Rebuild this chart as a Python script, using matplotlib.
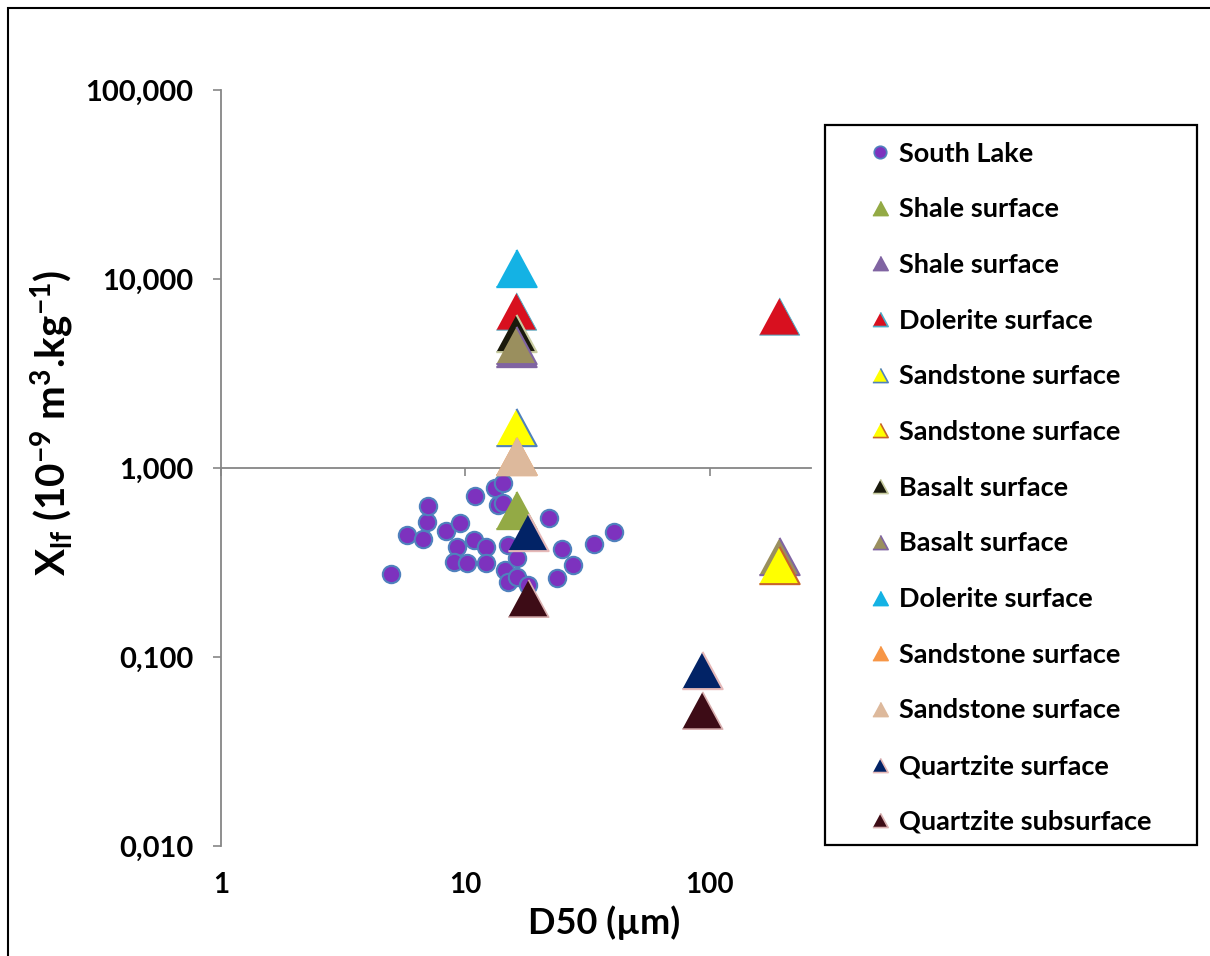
import matplotlib
matplotlib.use("Agg")
import matplotlib.pyplot as plt
from matplotlib.lines import Line2D
from matplotlib.patches import Rectangle
from matplotlib.ticker import FixedLocator, FixedFormatter, NullLocator

plt.rcParams['font.family'] = ['Lato', 'DejaVu Sans']
plt.rcParams['font.weight'] = 'bold'
plt.rcParams['mathtext.fontset'] = 'custom'
plt.rcParams['mathtext.rm'] = 'Lato:bold'
plt.rcParams['mathtext.bf'] = 'Lato:bold'
plt.rcParams['mathtext.default'] = 'bf'

# South Lake sediment samples: D50 (um) vs low-frequency susceptibility
lake_d50 = [4.96, 5.77, 6.70, 6.96, 7.02, 8.32, 9.49, 9.23, 8.97, 10.14,
            10.94, 10.83, 12.13, 12.13, 13.20, 13.58, 14.23, 14.23, 14.51, 14.92,
            16.24, 14.92, 16.24, 18.02, 21.95, 24.81, 27.52, 23.67, 33.54, 40.50]
lake_chi = [0.275, 0.442, 0.421, 0.518, 0.630, 0.464, 0.512, 0.382, 0.318, 0.314,
            0.711, 0.416, 0.382, 0.314, 0.784, 0.637, 0.833, 0.653, 0.289, 0.391,
            0.334, 0.249, 0.265, 0.240, 0.544, 0.373, 0.307, 0.262, 0.396, 0.459]

# catchment rock samples, one list per legend entry
rock_labels = ['Shale surface', 'Shale surface', 'Dolerite surface',
               'Sandstone surface', 'Sandstone surface', 'Basalt surface',
               'Basalt surface', 'Dolerite surface', 'Sandstone surface',
               'Sandstone surface', 'Quartzite surface', 'Quartzite subsurface']
rock_d50 = [[16.2], [16.2], [16.2, 193.0],
            [16.2], [193.0], [16.2],
            [16.2, 193.0], [16.2], [16.2],
            [16.2], [18.0, 92.7], [18.0, 92.7]]
rock_chi = [[0.60], [4.3], [6.8, 6.4],
            [1.65], [0.305], [5.2],
            [4.5, 0.342], [11.5], [1.16],
            [1.16], [0.458, 0.0853], [0.205, 0.0525]]

rock_face = ['#93AA45', '#8064A2', '#D8101F',
             '#FFFF00', '#FFFF00', '#1A1A0C',
             '#9A8F5E', '#14B2E4', '#F79646',
             '#DDB99C', '#022366', '#3D0C16']
rock_edge = ['#93AA45', '#8064A2', '#4BACC6',
             '#4F81BD', '#C8642B', '#C8CCA0',
             '#8064A2', '#14B2E4', '#F79646',
             '#DDB99C', '#E6B9B8', '#D9B0B0']
rock_mew = [1.5, 1.5, 0.7, 1.5, 1.5, 1.5, 1.5, 1.5, 1.5, 1.5, 1.5, 1.2]
rock_z = [3, 3, 3, 3, 4, 3, 3, 3, 3, 3, 3, 3]

x_ticks = [1, 10, 100]
x_tick_labels = ['1', '10', '100']
y_ticks = [0.01, 0.1, 1, 10, 100]
y_tick_labels = ['0,010', '0,100', '1,000', '10,000', '100,000']

axis_grey = '#868686'
lake_face = '#7D32BE'
lake_edge = '#4F81BD'

# slightly squat triangle like the spreadsheet marker
tri = [(-1, -0.925), (1, -0.925), (0, 0.925)]

fig = plt.figure(figsize=(12.1, 9.56), dpi=100)
ax = fig.add_axes([221 / 1210, 110 / 956, 590 / 1210, 756 / 956])
ax.set_xscale('log')
ax.set_yscale('log')
ax.set_xlim(1, 260)
ax.set_ylim(0.01, 100)

ax.plot(lake_d50, lake_chi, 'o', ms=12.5, mfc=lake_face, mec=lake_edge, mew=1.5,
        linestyle='none', zorder=2)
for xs, ys, fc, ec, mw, z in zip(rock_d50, rock_chi, rock_face, rock_edge,
                                 rock_mew, rock_z):
    ax.plot(xs, ys, marker=tri, ms=29, mfc=fc, mec=ec, mew=mw,
            linestyle='none', zorder=z)

# axes: y axis on the left, x axis line crossing at y = 1
for side in ['top', 'right']:
    ax.spines[side].set_visible(False)
ax.spines['left'].set_color(axis_grey)
ax.spines['left'].set_linewidth(1.3)
ax.spines['bottom'].set_position(('data', 1.0))
ax.spines['bottom'].set_color(axis_grey)
ax.spines['bottom'].set_linewidth(1.3)

ax.yaxis.set_major_locator(FixedLocator(y_ticks))
ax.yaxis.set_major_formatter(FixedFormatter(y_tick_labels))
ax.yaxis.set_minor_locator(NullLocator())
ax.tick_params(axis='y', direction='out', length=6, width=1.2, color=axis_grey,
               pad=14, labelsize=21)

ax.xaxis.set_major_locator(FixedLocator(x_ticks))
ax.xaxis.set_minor_locator(NullLocator())
ax.tick_params(axis='x', direction='out', length=6, width=1.2, color=axis_grey,
               labelbottom=False)

# tick labels sit at the bottom of the plot area
sec = ax.secondary_xaxis(0.0)
sec.spines['bottom'].set_visible(False)
sec.xaxis.set_major_locator(FixedLocator(x_ticks))
sec.xaxis.set_major_formatter(FixedFormatter(x_tick_labels))
sec.xaxis.set_minor_locator(NullLocator())
sec.tick_params(axis='x', length=0, pad=19, labelsize=20)

ax.set_xlabel('D50 (µm)', fontsize=26, fontweight='bold')
ax.xaxis.set_label_coords(0.65, -0.079)
ax.set_ylabel(r'X$_{lf}$ (10$^{-9}$ m$^{3}$.kg$^{-1}$)', fontsize=29,
              fontweight='bold')
ax.yaxis.set_label_coords(-0.245, 0.56)

# legend
handles = [Line2D([], [], marker='o', ms=9, mfc=lake_face, mec=lake_edge,
                  mew=1.2, linestyle='none')]
for fc, ec in zip(rock_face, rock_edge):
    handles.append(Line2D([], [], marker=tri, ms=11, mfc=fc, mec=ec, mew=1.2,
                          linestyle='none'))
labels = ['South Lake'] + rock_labels
fig.legend(handles, labels, loc='upper left',
           bbox_to_anchor=(854 / 1210, 1 - 128 / 956), frameon=False,
           borderpad=0, handlelength=0.9, handletextpad=0.25,
           labelspacing=1.17, prop={'family': 'Lato', 'weight': 'bold', 'size': 19.5})
fig.patches.append(Rectangle((825 / 1210, 1 - 845 / 956), 372 / 1210, 720 / 956,
                             transform=fig.transFigure, fill=False,
                             edgecolor='black', linewidth=1.6))

# outer chart border
fig.patches.append(Rectangle((8 / 1210, -0.1), 1.2, 1.1 - 8 / 956,
                             transform=fig.transFigure, fill=False,
                             edgecolor='black', linewidth=1.5))

fig.savefig('out.png', dpi=100)
